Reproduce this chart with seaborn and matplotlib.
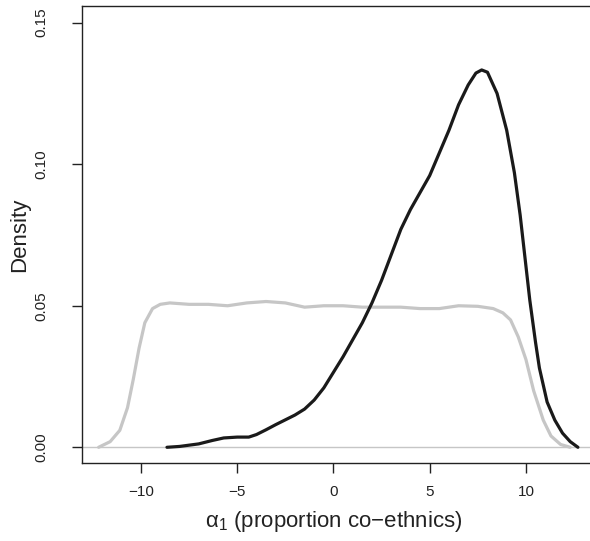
import numpy as np
import pandas as pd
import matplotlib
matplotlib.use('Agg')
import matplotlib.pyplot as plt
import seaborn as sns

# prior density (grey)
prior_x = [-12.2, -11.6, -11.1, -10.7, -10.4, -10.1, -9.8, -9.4, -9.0, -8.5,
           -7.5, -6.5, -5.5, -4.5, -3.5, -2.5, -1.5, -0.5, 0.5, 1.5,
           2.5, 3.5, 4.5, 5.5, 6.5, 7.5, 8.3, 8.8, 9.2, 9.6,
           10.0, 10.4, 10.9, 11.3, 11.8, 12.3]
prior_y = [0.0, 0.002, 0.006, 0.014, 0.024, 0.035, 0.044, 0.049, 0.0505, 0.051,
           0.0505, 0.0505, 0.050, 0.051, 0.0515, 0.051, 0.0495, 0.050, 0.050, 0.0495,
           0.0495, 0.0495, 0.049, 0.049, 0.050, 0.0498, 0.049, 0.0475, 0.045, 0.039,
           0.031, 0.020, 0.0096, 0.004, 0.001, 0.0]

# posterior density (black)
post_x = [-8.65, -8.0, -7.0, -6.3, -5.7, -5.0, -4.4, -4.0, -3.5, -3.0,
          -2.5, -2.0, -1.5, -1.0, -0.5, 0.0, 0.5, 1.0, 1.5, 2.0,
          2.5, 3.0, 3.5, 4.0, 4.5, 5.0, 5.5, 6.0, 6.5, 7.0,
          7.4, 7.7, 8.0, 8.5, 9.0, 9.4, 9.7, 10.0, 10.2, 10.5,
          10.7, 11.1, 11.5, 11.9, 12.3, 12.7]
post_y = [0.0, 0.0003, 0.0012, 0.0024, 0.0033, 0.0036, 0.0036, 0.0045, 0.0062, 0.0080,
          0.0097, 0.0114, 0.0135, 0.0167, 0.021, 0.0265, 0.032, 0.038, 0.044, 0.051,
          0.059, 0.068, 0.077, 0.084, 0.090, 0.096, 0.104, 0.112, 0.121, 0.128,
          0.1322, 0.1333, 0.1325, 0.125, 0.112, 0.097, 0.082, 0.064, 0.052, 0.037,
          0.028, 0.016, 0.0096, 0.005, 0.002, 0.0]

x_ticks = [-10, -5, 0, 5, 10]
y_ticks = [0.00, 0.05, 0.10, 0.15]

sns.set_style('white')
plt.rcParams['font.family'] = ['Liberation Sans', 'DejaVu Sans']
plt.rcParams['mathtext.fontset'] = 'custom'
plt.rcParams['mathtext.rm'] = 'Liberation Sans'

fig = plt.figure(figsize=(5.9, 5.41), dpi=100)
W, H = 590, 541
left, right, bottom, top = 81.7, 591.0, 463.0, 5.7
ax = fig.add_axes([left / W, (H - bottom) / H, (right - left) / W, (bottom - top) / H])

grey = '#c6c6c6'
ax.axhline(0, color=grey, lw=1.0, zorder=1)
sns.lineplot(x=prior_x, y=prior_y, color=grey, lw=2.3, ax=ax, zorder=2)
sns.lineplot(x=post_x, y=post_y, color='#1a1a1a', lw=2.3, ax=ax, zorder=3)

ax.set_xlim(-13.08, 13.38)
ax.set_ylim(-0.00555, 0.156)
ax.set_xticks(x_ticks)
ax.set_xticklabels([f'{t:g}'.replace('-', '\u2212') for t in x_ticks])
ax.set_yticks(y_ticks)
ax.set_yticklabels([f'{t:.2f}' for t in y_ticks])

for s in ['left', 'bottom', 'top']:
    ax.spines[s].set_color('#222222')
    ax.spines[s].set_linewidth(1.0)
ax.spines['right'].set_visible(False)

ax.tick_params(axis='both', which='major', direction='out', length=7.2, width=1.0,
               color='#222222', labelsize=11, labelcolor='#222222',
               left=True, bottom=True)
ax.tick_params(axis='x', pad=8.6)
ax.tick_params(axis='y', pad=17, labelrotation=90)
for lab in ax.get_yticklabels():
    lab.set_va('center')

ax.set_xlabel('$\\mathregular{\u03b1_1}$ (proportion co\u2212ethnics)', fontsize=16, color='#222222')
ax.set_ylabel('Density', fontsize=16, color='#222222')
ax.xaxis.set_label_coords((333.5 - left) / (right - left), (bottom - 509) / (bottom - top))
ax.yaxis.set_label_coords((30 - left) / (right - left), (bottom - 235) / (bottom - top))

fig.savefig('out.png', dpi=100)
